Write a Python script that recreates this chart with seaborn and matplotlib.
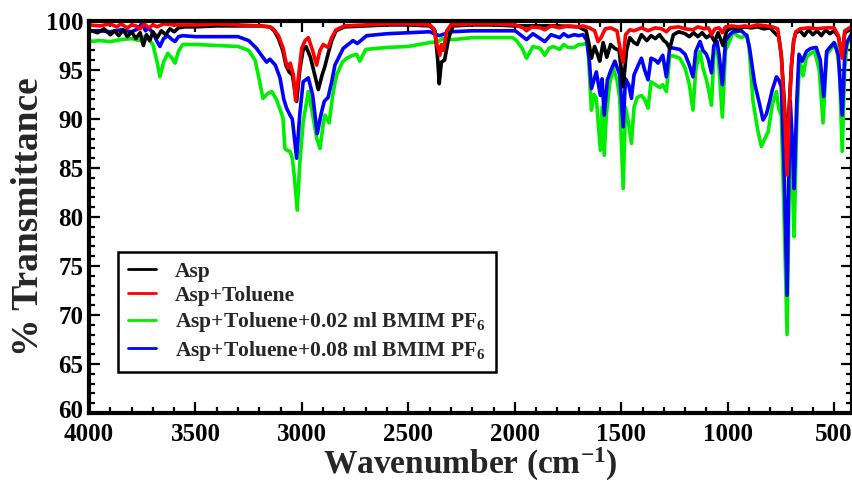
import matplotlib
matplotlib.use("Agg")
import matplotlib.pyplot as plt
import matplotlib.transforms as mtransforms
import seaborn as sns
import pandas as pd
from matplotlib.ticker import MultipleLocator

# ---- FTIR spectra: wavenumber (cm^-1) and % transmittance ----
wn_asp = [4000, 3960, 3930, 3900, 3880, 3860, 3840, 3820, 3800, 3780, 3760, 3745, 3730, 3715,
          3700, 3680, 3660, 3640, 3620, 3600, 3580, 3550, 3500, 3400, 3300, 3200, 3150, 3130,
          3110, 3090, 3075, 3060, 3045, 3025, 3010, 2995, 2981, 2960, 2940, 2923, 2905, 2893,
          2880, 2860, 2840, 2800, 2700, 2600, 2500, 2400, 2375, 2362, 2355, 2345, 2330, 2310,
          2290, 2200, 2100, 2000, 1900, 1800, 1700, 1665, 1650, 1640, 1625, 1610, 1601, 1585,
          1568, 1550, 1530, 1510, 1491, 1475, 1460, 1440, 1425, 1405, 1380, 1360, 1340, 1320,
          1300, 1288, 1272, 1255, 1230, 1200, 1180, 1160, 1140, 1120, 1100, 1080, 1061, 1045,
          1022, 1005, 980, 950, 920, 890, 860, 830, 800, 780, 760, 748, 735, 721, 712, 700,
          690, 680, 660, 640, 620, 600, 580, 560, 540, 520, 500, 480, 462, 450, 435, 420]
t_asp = [99.1, 98.8, 99.2, 98.6, 99.0, 98.5, 99.1, 98.4, 98.9, 98.2, 98.8, 97.5, 98.6, 98.0,
         98.9, 98.3, 99.0, 98.6, 99.2, 98.9, 99.3, 99.4, 99.4, 99.5, 99.5, 99.5, 99.4, 99.0,
         98.2, 97.0, 95.5, 94.8, 94.5, 91.8, 95.0, 97.0, 97.4, 96.3, 94.5, 93.0, 94.5, 95.3,
         96.4, 98.0, 99.0, 99.4, 99.5, 99.6, 99.6, 99.5, 99.0, 96.0, 93.6, 95.8, 96.0, 98.3,
         99.5, 99.6, 99.6, 99.5, 99.5, 99.5, 99.4, 99.0, 97.5, 96.2, 97.4, 96.5, 95.9, 97.8,
         96.3, 97.6, 97.2, 97.0, 93.3, 97.0, 98.3, 97.8, 97.6, 98.6, 98.0, 98.5, 98.2, 98.6,
         98.0, 97.8, 97.2, 98.6, 98.9, 98.7, 98.4, 98.8, 98.4, 98.8, 98.3, 98.6, 97.9, 98.8,
         97.5, 99.0, 99.3, 99.2, 99.4, 99.3, 99.4, 99.2, 99.3, 98.8, 98.4, 96.5, 92.0, 86.0,
         91.0, 95.5, 98.0, 98.8, 99.0, 98.5, 99.1, 98.6, 99.0, 98.5, 99.1, 98.7, 99.0, 98.4,
         96.5, 98.8, 99.0, 99.2]

wn_tol = [4000, 3950, 3900, 3870, 3850, 3820, 3800, 3780, 3760, 3740, 3720, 3700, 3680, 3650,
          3600, 3500, 3400, 3300, 3200, 3150, 3135, 3110, 3088, 3075, 3065, 3055, 3040, 3030,
          3015, 3001, 2985, 2970, 2950, 2931, 2915, 2900, 2877, 2860, 2840, 2800, 2700, 2600,
          2500, 2400, 2380, 2365, 2352, 2345, 2335, 2320, 2300, 2200, 2100, 2000, 1960, 1945,
          1920, 1880, 1859, 1830, 1790, 1750, 1700, 1680, 1650, 1625, 1609, 1595, 1575, 1550,
          1520, 1500, 1491, 1480, 1460, 1440, 1405, 1374, 1340, 1310, 1288, 1270, 1230, 1200,
          1163, 1140, 1110, 1090, 1076, 1060, 1040, 1025, 1010, 980, 950, 920, 900, 860, 820,
          790, 765, 748, 732, 721, 712, 700, 690, 680, 660, 620, 580, 540, 500, 480, 462, 450,
          420]
t_tol = [99.6, 99.5, 99.7, 99.4, 99.7, 99.3, 99.6, 99.5, 99.2, 99.7, 99.3, 99.6, 99.4, 99.7,
         99.6, 99.6, 99.7, 99.6, 99.5, 99.4, 99.2, 98.5, 97.2, 95.8, 95.2, 95.7, 94.5, 91.9,
         94.5, 97.2, 98.0, 98.3, 97.0, 95.5, 97.0, 97.6, 97.3, 98.3, 99.1, 99.5, 99.6, 99.7,
         99.7, 99.6, 99.2, 97.5, 96.5, 97.6, 97.0, 99.0, 99.6, 99.7, 99.7, 99.6, 99.3, 99.0,
         99.4, 99.3, 99.1, 99.5, 99.3, 99.5, 99.4, 99.5, 99.3, 99.0, 97.9, 98.3, 99.2, 99.3,
         99.0, 96.5, 95.8, 98.6, 99.1, 99.0, 99.3, 99.0, 99.3, 99.2, 98.9, 99.3, 99.4, 99.2,
         99.1, 99.4, 99.2, 99.3, 98.6, 99.2, 99.3, 98.8, 99.4, 99.5, 99.4, 99.5, 99.4, 99.6, 99.5,
         99.4, 99.2, 96.4, 90.4, 84.3, 90.4, 95.6, 97.9, 98.9, 99.2, 99.3, 99.2, 99.3, 99.3,
         98.5, 96.2, 99.0, 99.4]

wn_il02 = [4000, 3950, 3900, 3850, 3800, 3760, 3740, 3720, 3700, 3680, 3667, 3650, 3630, 3610,
           3596, 3580, 3560, 3500, 3400, 3300, 3250, 3220, 3200, 3183, 3160, 3142, 3120, 3100,
           3089, 3080, 3070, 3056, 3045, 3035, 3022, 3010, 2994, 2970, 2950, 2930, 2915, 2900,
           2892, 2872, 2855, 2837, 2810, 2790, 2760, 2743, 2728, 2700, 2600, 2500, 2400, 2360,
           2340, 2291, 2200, 2100, 2010, 1992, 1965, 1945, 1930, 1915, 1880, 1859, 1840, 1820,
           1789, 1770, 1750, 1720, 1700, 1680, 1657, 1648, 1640, 1628, 1617, 1598, 1590, 1580,
           1570, 1555, 1538, 1520, 1507, 1491, 1480, 1465, 1452, 1440, 1425, 1405, 1390, 1374,
           1360, 1340, 1319, 1305, 1288, 1272, 1250, 1225, 1200, 1180, 1163, 1150, 1130, 1116,
           1100, 1090, 1076, 1065, 1050, 1040, 1025, 1010, 990, 975, 955, 936, 910, 900, 881,
           860, 842, 825, 810, 790, 771, 760, 748, 735, 721, 712, 706, 697, 688, 675, 662, 646,
           630, 610, 591, 570, 552, 535, 520, 500, 490, 475, 462, 450, 440, 420]
t_il02 = [97.9, 98.0, 97.9, 98.1, 98.2, 98.0, 98.4, 98.1, 97.6, 95.8, 94.3, 95.8, 96.7, 96.2,
          95.7, 96.9, 97.6, 97.6, 97.5, 97.4, 97.0, 96.0, 94.0, 92.1, 92.6, 92.8, 92.0, 90.8,
          90.1, 87.0, 86.8, 86.7, 86.0, 84.0, 80.7, 85.5, 89.7, 92.8, 90.5, 88.0, 87.0, 89.5,
          90.4, 89.6, 92.5, 94.5, 95.8, 96.2, 96.5, 96.6, 95.9, 97.1, 97.3, 97.4, 97.8, 97.9,
          98.2, 98.1, 98.3, 98.3, 98.3, 98.0, 97.2, 96.2, 96.8, 97.4, 97.2, 96.5, 97.2, 97.4,
          97.1, 97.6, 97.3, 97.3, 97.6, 97.6, 97.8, 94.0, 90.9, 92.5, 92.1, 86.8, 91.2, 86.3,
          90.4, 93.5, 95.2, 94.0, 92.1, 82.9, 91.2, 89.5, 87.5, 91.2, 92.2, 92.4, 92.0, 91.1,
          93.8, 93.5, 93.2, 93.5, 92.8, 96.5, 96.4, 96.2, 95.2, 93.5, 90.9, 95.0, 96.9, 95.2,
          94.0, 93.0, 91.4, 96.5, 97.6, 95.0, 90.2, 97.0, 98.0, 98.9, 98.5, 98.3, 98.6, 97.5, 91.8,
          89.0, 87.2, 88.0, 88.7, 91.5, 92.8, 91.0, 90.4, 80.0, 68.0, 82.0, 87.1, 84.0, 78.0,
          90.0, 96.1, 94.4, 96.3, 96.7, 96.9, 95.0, 89.6, 96.6, 97.0, 97.6, 97.6, 95.0, 86.7,
          95.2, 97.5, 98.6]

wn_il08 = [4000, 3950, 3900, 3850, 3800, 3770, 3750, 3735, 3720, 3700, 3680, 3667, 3650, 3630,
           3610, 3596, 3580, 3560, 3500, 3400, 3300, 3250, 3213, 3190, 3166, 3150, 3125, 3103,
           3085, 3072, 3056, 3045, 3035, 3025, 3010, 2994, 2970, 2950, 2928, 2910, 2895, 2877,
           2860, 2845, 2806, 2760, 2740, 2696, 2600, 2500, 2400, 2355, 2300, 2200, 2100, 2000,
           1992, 1945, 1915, 1859, 1830, 1789, 1770, 1750, 1720, 1700, 1680, 1663, 1650, 1640,
           1628, 1617, 1598, 1590, 1580, 1565, 1548, 1530, 1515, 1507, 1491, 1480, 1465, 1452,
           1440, 1420, 1405, 1390, 1374, 1360, 1340, 1327, 1305, 1288, 1272, 1225, 1200, 1180,
           1163, 1150, 1130, 1116, 1100, 1090, 1076, 1065, 1050, 1040, 1025, 1010, 990, 975, 936,
           910, 897, 873, 850, 834, 818, 803, 790, 771, 760, 748, 735, 721, 712, 706, 697, 688,
           675, 665, 650, 630, 610, 584, 565, 549, 535, 520, 500, 480, 462, 450, 440, 420]
t_il08 = [99.0, 99.0, 98.9, 99.1, 98.9, 99.2, 99.8, 99.0, 99.3, 98.8, 97.9, 97.4, 98.2, 98.5,
          98.1, 97.9, 98.4, 98.5, 98.4, 98.4, 98.4, 98.0, 97.2, 96.5, 95.8, 96.1, 95.5, 94.2,
          92.0, 91.1, 90.4, 90.0, 88.0, 86.0, 90.5, 93.8, 94.2, 92.5, 88.5, 90.5, 91.8, 92.2,
          93.8, 95.5, 97.2, 98.0, 97.7, 98.5, 98.7, 98.8, 98.9, 98.5, 98.9, 99.0, 99.0, 99.0,
          98.9, 98.1, 98.7, 97.9, 98.6, 98.3, 98.7, 98.4, 98.6, 98.5, 98.6, 98.1, 96.0, 93.1,
          94.0, 94.8, 92.4, 94.1, 90.4, 94.0, 95.0, 95.9, 95.0, 94.5, 89.2, 94.1, 93.5, 92.1,
          94.5, 95.5, 96.2, 95.0, 94.0, 96.2, 96.0, 95.7, 96.5, 94.3, 97.3, 97.1, 96.6, 95.5,
          94.3, 96.9, 97.9, 97.0, 96.6, 96.0, 94.7, 97.5, 97.9, 96.5, 93.5, 98.0, 98.6, 98.9, 99.0,
          98.5, 97.2, 93.6, 91.5, 89.9, 90.5, 91.8, 93.0, 94.3, 94.0, 93.3, 85.0, 72.0, 85.0,
          91.8, 88.0, 82.9, 92.0, 96.6, 95.9, 96.9, 97.2, 97.3, 96.0, 92.3, 96.9, 97.3, 97.8,
          96.5, 90.4, 96.6, 97.8, 98.6]

labels = ["Asp", "Asp+Toluene", "Asp+Toluene+0.02 ml BMIM PF$_6$",
          "Asp+Toluene+0.08 ml BMIM PF$_6$"]
colors = ["#000000", "#ff0000", "#00ee00", "#0000ff"]

sns.set_theme(style="ticks")
plt.rcParams["font.family"] = ["Liberation Serif", "DejaVu Serif"]
plt.rcParams["font.weight"] = "bold"
plt.rcParams["mathtext.fontset"] = "custom"
plt.rcParams["mathtext.rm"] = "Liberation Serif:bold"
plt.rcParams["mathtext.it"] = "Liberation Serif:bold:italic"
plt.rcParams["mathtext.bf"] = "Liberation Serif:bold"
plt.rcParams["mathtext.default"] = "rm"

fig = plt.figure(figsize=(8.52, 4.88), dpi=100)
ax = fig.add_axes([0.1045, 0.1537, 0.8955, 0.8033])

series = [(wn_asp, t_asp), (wn_tol, t_tol), (wn_il02, t_il02), (wn_il08, t_il08)]
# green and blue underneath, then black, red on top
for idx in [2, 3, 0, 1]:
    wn, t = series[idx]
    df = pd.DataFrame({"wn": wn, "T": t})
    sns.lineplot(data=df, x="wn", y="T", ax=ax, color=colors[idx], lw=2.6,
                 sort=False, estimator=None, label=labels[idx])

h, l = ax.get_legend_handles_labels()
order = [l.index(lab) for lab in labels]
leg = ax.legend([h[i] for i in order], [l[i] for i in order],
                loc="upper left", bbox_to_anchor=(0.038, 0.411), borderaxespad=0,
                frameon=True, fancybox=False, edgecolor="black", framealpha=1,
                prop={"family": "Liberation Serif", "weight": "bold", "size": 15.5},
                handlelength=1.3, handletextpad=0.9, labelspacing=0.2,
                borderpad=0.45)
leg.get_frame().set_linewidth(1.8)
for line in leg.get_lines():
    line.set_linewidth(2.0)

ax.set_xlim(4000, 416)
ax.set_ylim(60, 100)
ax.xaxis.set_major_locator(MultipleLocator(500))
ax.xaxis.set_minor_locator(MultipleLocator(100))
ax.yaxis.set_major_locator(MultipleLocator(5))
ax.yaxis.set_minor_locator(MultipleLocator(1))
ax.tick_params(which="both", direction="in", top=True, right=True,
               labelsize=18, width=1.6, colors="black")
ax.tick_params(axis="x", which="both", pad=7)
ax.tick_params(axis="y", which="both", pad=4)
ax.tick_params(which="major", length=8)
ax.tick_params(which="minor", length=4)
for lab in ax.get_xticklabels() + ax.get_yticklabels():
    lab.set_fontweight("bold")
for sp in ax.spines.values():
    sp.set_linewidth(3.0)
    sp.set_color("black")

# lift the lowest y tick label a touch so it sits clear of the "4000" label
fig.canvas.draw()
for tick in ax.yaxis.get_major_ticks():
    if abs(tick.get_loc() - 60) < 1e-6:
        tick.label1.set_transform(tick.label1.get_transform() +
                                  mtransforms.ScaledTranslation(0, 3 / 72, fig.dpi_scale_trans))

ax.set_xlabel("Wavenumber (cm$^{-1}$)", fontsize=24, fontweight="bold", labelpad=0)
ax.set_ylabel("% Transmittance", fontsize=27, fontweight="bold", labelpad=0)

fig.savefig("out.png", dpi=100)
